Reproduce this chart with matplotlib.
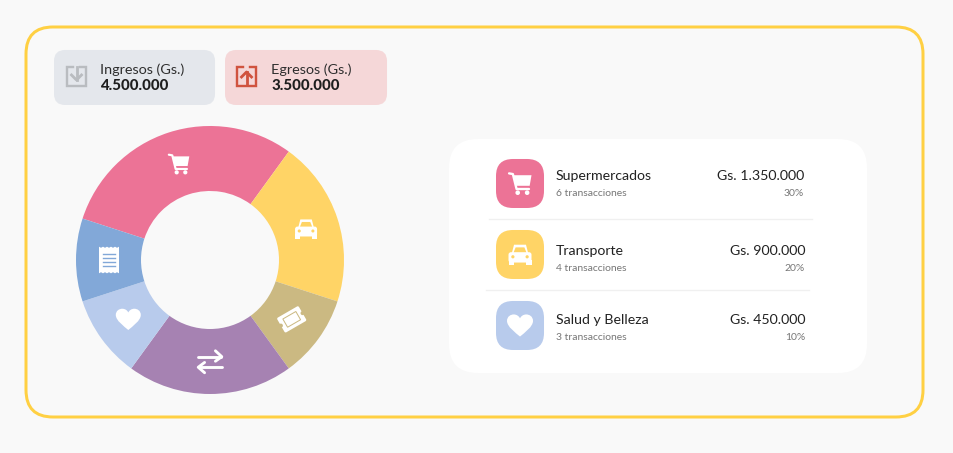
import numpy as np
from matplotlib import pyplot as plt
from matplotlib.patches import FancyBboxPatch, PathPatch, Circle, Polygon, Rectangle
from matplotlib.path import Path
from matplotlib.transforms import Affine2D

plt.rcParams['font.family'] = ['Lato', 'DejaVu Sans']

# donut data
slice_values = [30, 20, 10, 20, 10, 10]
slice_colors = ['#EC7396', '#FFD466', '#CBB982', '#A682B2', '#B8CBEC', '#82A8D8']
slice_icons = ['cart', 'car', 'ticket', 'swap', 'heart', 'receipt']

# legend rows
row_names = ['Supermercados', 'Transporte', 'Salud y Belleza']
row_counts = ['6 transacciones', '4 transacciones', '3 transacciones']
row_amounts = ['Gs. 1.350.000', 'Gs. 900.000', 'Gs. 450.000']
row_percents = ['30%', '20%', '10%']
row_colors = ['#EC7396', '#FFD466', '#B8CBEC']
row_icons = ['cart', 'car', 'heart']

# header cards
card_titles = ['Ingresos (Gs.)', 'Egresos (Gs.)']
card_values = ['4.500.000', '3.500.000']

BG = '#F9F9F9'
W, H = 953, 453
px = 72 / 100  # one pixel in points

fig = plt.figure(figsize=((W + 0.01) / 100, (H + 0.01) / 100), dpi=100, facecolor=BG)

# base layer, in pixel coordinates
ax = fig.add_axes([0, 0, 1, 1], zorder=1)
ax.set_xlim(0, W)
ax.set_ylim(H, 0)
ax.axis('off')


def rbox(a, x0, y0, x1, y1, r, **kw):
    a.add_patch(FancyBboxPatch((x0 + r, y0 + r), x1 - x0 - 2 * r, y1 - y0 - 2 * r,
                               boxstyle='round,pad=%f,rounding_size=%f' % (r, r), **kw))


rbox(ax, 26, 27, 923, 417, 27, fc=BG, ec='#FFD043', lw=3 * px)
rbox(ax, 54, 50, 215, 105, 11, fc='#E4E7EC', ec='none')
rbox(ax, 225, 50, 387, 105, 11, fc='#F5D7D8', ec='none')
rbox(ax, 449, 139, 867, 373, 29, fc='white', ec='none')

ax.plot([489, 812], [219, 219], color='#F0F0F0', lw=1.4 * px)
ax.plot([486, 809], [290, 290], color='#F0F0F0', lw=1.4 * px)

# header icons
for x0, col, up in [(67, '#B9BCC0', False), (237, '#D0533F', True)]:
    ax.plot([x0 + 6, x0, x0, x0 + 19, x0 + 19, x0 + 13], [67, 67, 86, 86, 67, 67],
            color=col, lw=2.4 * px, solid_joinstyle='miter')
    xc = x0 + 9.5
    if up:
        ax.plot([xc, xc], [72, 84], color=col, lw=2.8 * px)
        ax.plot([xc - 5, xc, xc + 5], [77, 72, 77], color=col, lw=2.8 * px)
    else:
        ax.plot([xc, xc], [67, 80], color=col, lw=2.8 * px)
        ax.plot([xc - 5, xc, xc + 5], [75, 80, 75], color=col, lw=2.8 * px)

for x, x2, title, value in zip([100, 271], [100, 272], card_titles, card_values):
    ax.text(x, 70, title, fontsize=10.4, color='#2E2E2E', va='center')
    ax.text(x2, 86, value, fontsize=10.8, fontweight='black', color='#1E1E1E', va='center')

# legend rows
row_tops = [159, 230, 301]
name_y = [176, 251, 320]
count_y = [193.5, 268.5, 337.5]
amount_x = [804, 805, 805]
for i, name in enumerate(row_names):
    rbox(ax, 496, row_tops[i], 544, row_tops[i] + 49, 17, fc=row_colors[i], ec='none')
    ax.text(556, name_y[i], name, fontsize=10.2, color='#222222', va='center')
    ax.text(556, count_y[i], row_counts[i], fontsize=7.5, color='#777777', va='center')
    ax.text(amount_x[i], name_y[i], row_amounts[i], fontsize=10.2, color='#222222', va='center', ha='right')
    ax.text(amount_x[i], count_y[i], row_percents[i], fontsize=7.5, color='#777777', va='center', ha='right')

# donut
pie_ax = fig.add_axes([76 / W, 1 - 394 / H, 268 / W, 268 / H], zorder=2)
pie_ax.pie(slice_values, colors=slice_colors, startangle=162, counterclock=False,
           radius=1, wedgeprops={'width': 65 / 134, 'linewidth': 0})
pie_ax.set_xlim(-1, 1)
pie_ax.set_ylim(-1, 1)
pie_ax.patch.set_alpha(0)

# icon layer on top
top = fig.add_axes([0, 0, 1, 1], zorder=3)
top.set_xlim(0, W)
top.set_ylim(H, 0)
top.axis('off')


def draw_icon(kind, cx, cy, s, fill, rot=0):
    # s is half the icon width, shapes are drawn in a -1..1 box
    t = Affine2D().rotate_deg(rot).scale(s).translate(cx, cy) + top.transData
    white = dict(fc='white', ec='none', transform=t)
    cut = dict(fc=fill, ec='none', transform=t)
    lw = s * 0.24 * px

    def line(xs, ys, col='white', w=lw):
        top.plot(xs, ys, color=col, lw=w, transform=t, solid_capstyle='round', solid_joinstyle='round')

    if kind == 'cart':
        line([-0.95, -0.62, -0.3, 0.78], [-0.88, -0.82, 0.48, 0.48], w=lw * 0.85)
        top.add_patch(Polygon([(-0.58, -0.72), (1, -0.72), (0.84, 0.2), (-0.38, 0.2)], **white))
        top.add_patch(Circle((-0.2, 0.8), 0.2, **white))
        top.add_patch(Circle((0.62, 0.8), 0.2, **white))
    elif kind == 'car':
        top.add_patch(Polygon([(-0.74, 0), (-0.52, -0.85), (0.52, -0.85), (0.74, 0)], **white))
        rbox(top, -1, -0.2, 1, 0.7, 0.22, **white)
        top.add_patch(Rectangle((-1, 0.45), 0.45, 0.5, **white))
        top.add_patch(Rectangle((0.55, 0.45), 0.45, 0.5, **white))
        top.add_patch(Polygon([(-0.55, -0.2), (-0.38, -0.62), (0.38, -0.62), (0.55, -0.2)], **cut))
        top.add_patch(Circle((-0.62, 0.2), 0.14, **cut))
        top.add_patch(Circle((0.62, 0.2), 0.14, **cut))
    elif kind == 'ticket':
        rbox(top, -1, -0.68, 1, 0.68, 0.12, **white)
        top.add_patch(Circle((-1, 0), 0.16, **cut))
        top.add_patch(Circle((1, 0), 0.16, **cut))
        top.add_patch(Rectangle((-0.6, -0.38), 1.2, 0.76, fc='none', ec=fill, lw=1 * px, transform=t))
    elif kind == 'swap':
        line([-1, 0.95], [-0.36, -0.36])
        line([0.45, 0.98, 0.45], [-0.85, -0.36, 0.02])
        line([-0.95, 1], [0.52, 0.52])
        line([-0.45, -0.98, -0.45], [0.12, 0.52, 0.98])
    elif kind == 'heart':
        verts = [(0, 0.85), (-0.35, 0.55), (-1, 0.1), (-1, -0.35), (-1, -0.7), (-0.72, -0.85), (-0.48, -0.85),
                 (-0.25, -0.85), (-0.08, -0.72), (0, -0.55), (0.08, -0.72), (0.25, -0.85), (0.48, -0.85),
                 (0.72, -0.85), (1, -0.7), (1, -0.35), (1, 0.1), (0.35, 0.55), (0, 0.85)]
        codes = [Path.MOVETO] + [Path.CURVE4] * 18
        top.add_patch(PathPatch(Path(verts, codes), **white))
    elif kind == 'receipt':
        n = 5
        xs = np.linspace(-1, 1, 2 * n + 1)
        upper = [(x, -1.33 if k % 2 == 0 else -1.22) for k, x in enumerate(xs)]
        lower = [(x, 1.33 if k % 2 == 0 else 1.22) for k, x in enumerate(xs)]
        top.add_patch(Polygon(upper + lower[::-1], **white))
        for y in [-0.6, -0.2, 0.2, 0.6]:
            top.plot([-0.58, 0.58], [y, y], color=fill, lw=s * 0.14 * px, transform=t)


icon_sizes = {'cart': 10.5, 'car': 11, 'ticket': 12.5, 'swap': 12, 'heart': 12.5, 'receipt': 10}
mid_radius = 101
angle = 162
for value, color, kind in zip(slice_values, slice_colors, slice_icons):
    span = value / sum(slice_values) * 360
    mid = np.radians(angle - span / 2)
    angle -= span
    draw_icon(kind, 210 + mid_radius * np.cos(mid), 260 - mid_radius * np.sin(mid),
              icon_sizes[kind], color, rot=-30 if kind == 'ticket' else 0)

row_sizes = {'cart': 11.5, 'car': 11.5, 'heart': 13}
for i, kind in enumerate(row_icons):
    draw_icon(kind, 520, row_tops[i] + 24.5, row_sizes[kind], row_colors[i])

fig.savefig('out.png', dpi=100, facecolor=BG)
